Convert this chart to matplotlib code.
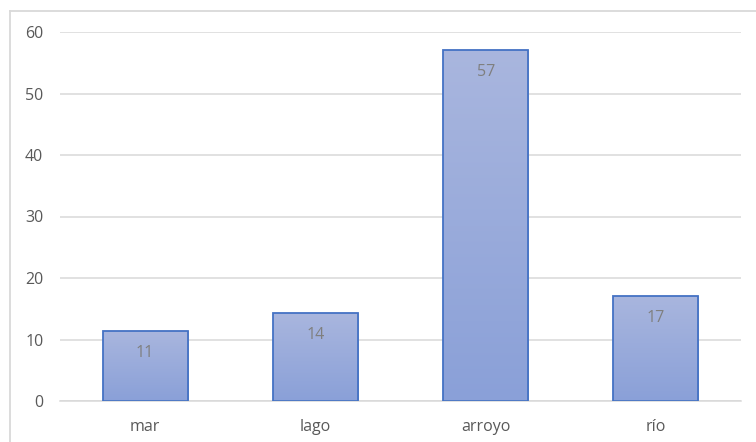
import matplotlib
matplotlib.use("Agg")
import matplotlib.pyplot as plt
import numpy as np
from matplotlib.colors import LinearSegmentedColormap
from matplotlib.lines import Line2D

categories = ["mar", "lago", "arroyo", "río"]
values = [11.4, 14.3, 57.0, 17.1]
yticks = [0, 10, 20, 30, 40, 50, 60]

W, H = 756, 442
fig = plt.figure(figsize=(W / 100, H / 100), dpi=100)
plt.rcParams['font.family'] = ['Open Sans', 'DejaVu Sans']

ax = fig.add_axes([60 / W, (H - 401) / H, (741 - 60) / W, (401 - 32) / H])
ax.set_xlim(-0.5, len(categories) - 0.5)
ax.set_ylim(0, 60)

x = np.arange(len(categories))
bars = ax.bar(x, values, width=0.5, color='none', edgecolor='#4472C4', linewidth=1.3, zorder=3)

cmap = LinearSegmentedColormap.from_list('g', ['#8AA0D8', '#A9B6DE'])
grad = np.linspace(0, 1, 256).reshape(-1, 1)
for b in bars:
    x0, y0 = b.get_x(), b.get_y()
    w, h = b.get_width(), b.get_height()
    im = ax.imshow(grad, cmap=cmap, origin='lower', aspect='auto',
                   extent=[x0, x0 + w, y0, y0 + h], zorder=2, interpolation='bicubic')
    im.set_clip_path(b)
    ax.annotate(f"{b.get_height():.0f}", (x0 + w / 2, y0 + h), xytext=(0, -22),
                textcoords='offset pixels', ha='center', va='center',
                fontsize=11.5, color='#7F7F7F', zorder=4)

ax.set_xlim(-0.5, len(categories) - 0.5)
ax.set_ylim(0, 60)
ax.set_yticks(yticks)
ax.set_xticks(x)
ax.set_xticklabels(categories)
ax.yaxis.grid(True, color='#D9D9D9', linewidth=1.1, zorder=0)
ax.set_axisbelow(True)
for s in ['top', 'right', 'left']:
    ax.spines[s].set_visible(False)
ax.spines['bottom'].set_color('#D9D9D9')
ax.spines['bottom'].set_linewidth(1.1)
ax.tick_params(axis='both', length=0, colors='#595959', labelsize=11.5)
ax.tick_params(axis='y', pad=12)
ax.tick_params(axis='x', pad=13)

# outer chart border
fig.add_artist(Line2D([10 / W, 10 / W], [0, (H - 11) / H], color='#D9D9D9', linewidth=1.3, transform=fig.transFigure))
fig.add_artist(Line2D([10 / W, 1], [(H - 11) / H, (H - 11) / H], color='#D9D9D9', linewidth=1.3, transform=fig.transFigure))

fig.savefig('out.png', dpi=100)
